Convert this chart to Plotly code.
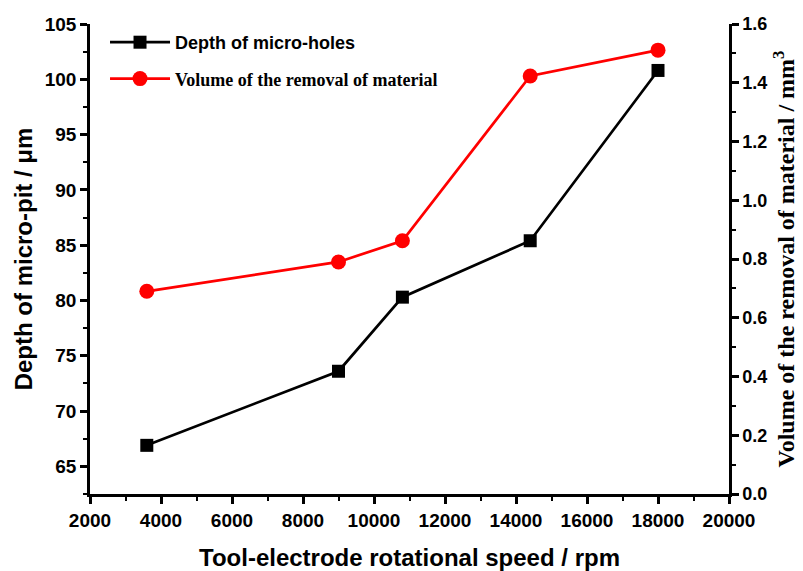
import plotly.graph_objects as go

speed = [3600, 9000, 10800, 14400, 18000]
depth = [66.9, 73.6, 80.3, 85.4, 100.8]
volume = [0.69, 0.79, 0.862, 1.423, 1.511]

x_ticks = list(range(2000, 20001, 2000))
y_ticks = list(range(65, 106, 5))
y2_ticks = [0, 0.2, 0.4, 0.6, 0.8, 1.0, 1.2, 1.4, 1.6]

SANS = "Liberation Sans, Arial, sans-serif"
SERIF = "Liberation Serif, Times New Roman, serif"

fig = go.Figure()
fig.add_trace(go.Scatter(
    x=speed, y=depth, mode="lines+markers", name="<b>Depth of micro-holes</b>",
    line=dict(color="black", width=2.7),
    marker=dict(symbol="square", size=13, color="black"),
    legendgroup="a", yaxis="y"))
fig.add_trace(go.Scatter(
    x=speed, y=volume, mode="lines+markers",
    name="<b><span style='font-family:\"Liberation Serif\",\"Times New Roman\",serif'>Volume of the removal of material</span></b>",
    line=dict(color="#ff0000", width=2.7),
    marker=dict(symbol="circle", size=15, color="#ff0000"),
    legendgroup="b", yaxis="y2"))

tickfont = dict(family=SANS, size=19, color="black", weight="bold")
fig.update_layout(
    width=795, height=563,
    margin=dict(l=82, r=74, t=16, b=77),
    plot_bgcolor="white", paper_bgcolor="white",
    font=dict(family=SANS, color="black"),
    xaxis=dict(
        range=[2000, 20000], tickvals=x_ticks, ticktext=[str(v) for v in x_ticks],
        automargin=False,
        showline=True, linecolor="black", linewidth=2.5, mirror=False,
        ticks="outside", ticklen=7, tickwidth=2.5, tickcolor="black",
        minor=dict(dtick=1000, ticks="outside", ticklen=4, tickwidth=2, tickcolor="black"),
        showgrid=False, zeroline=False,
        tickfont=dict(family=SANS, size=19, color="black", weight="bold"),
        title=dict(text="Tool-electrode rotational speed / rpm",
                   font=dict(family=SANS, size=24, color="black", weight="bold"),
                   standoff=21),
    ),
    yaxis=dict(
        range=[62.5, 105], tickvals=y_ticks, ticktext=[str(v) for v in y_ticks],
        automargin=False,
        showline=True, linecolor="black", linewidth=2.5,
        ticks="outside", ticklen=7, tickwidth=2.5, tickcolor="black",
        minor=dict(dtick=2.5, ticks="outside", ticklen=4, tickwidth=2, tickcolor="black"),
        showgrid=False, zeroline=False, tickfont=tickfont,
        title=dict(text="Depth of micro-pit / μm",
                   font=dict(family=SANS, size=24, color="black", weight="bold"),
                   standoff=6),
    ),
    yaxis2=dict(
        range=[0, 1.6], tickvals=y2_ticks, ticktext=["%.1f" % v for v in y2_ticks],
        automargin=False,
        overlaying="y", side="right",
        showline=True, linecolor="black", linewidth=2.5,
        ticks="outside", ticklen=7, tickwidth=2.5, tickcolor="black",
        minor=dict(dtick=0.1, ticks="outside", ticklen=4, tickwidth=2, tickcolor="black"),
        showgrid=False, zeroline=False,
        tickfont=dict(family=SANS, size=18, color="black", weight="bold"),
        title=dict(text="Volume of the removal of material / mm<sup>3</sup>",
                   font=dict(family=SERIF, size=24, color="black", weight="bold"),
                   standoff=11),
    ),
    legend=dict(
        x=0.0235, y=1.0, xanchor="left", yanchor="top",
        bgcolor="rgba(0,0,0,0)", borderwidth=0,
        traceorder="grouped", tracegroupgap=10,
        font=dict(family=SANS, size=18, color="black"),
        itemwidth=60,
    ),
    showlegend=True,
)

fig.write_html("out.html")
